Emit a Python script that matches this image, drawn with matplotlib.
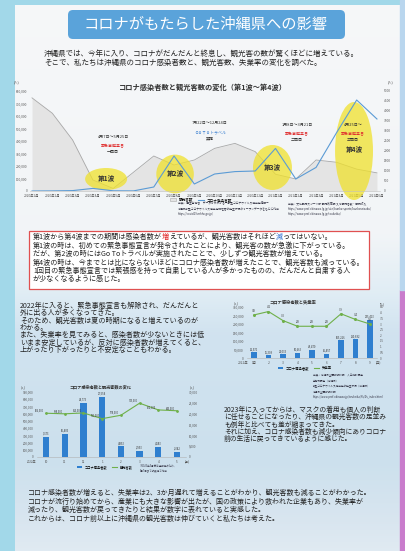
import numpy as np
import matplotlib
matplotlib.use("Agg")
import matplotlib.pyplot as plt
from matplotlib.patches import Ellipse, FancyBboxPatch, Rectangle
from matplotlib.lines import Line2D
from matplotlib.ticker import FuncFormatter

plt.rcParams['font.family'] = ['Noto Sans CJK JP', 'DejaVu Sans']

# --- main chart: 2020/1 - 2021/6
months_main = ['2020年1月', '2020年2月', '2020年3月', '2020年4月', '2020年5月', '2020年6月',
               '2020年7月', '2020年8月', '2020年9月', '2020年10月', '2020年11月', '2020年12月',
               '2021年1月', '2021年2月', '2021年3月', '2021年4月', '2021年5月', '2021年6月']
visitors_main = [745000, 622000, 408000, 88000, 20000, 150000, 280000, 208000, 248000,
                 341000, 381000, 315000, 134000, 96000, 248000, 230000, 175000, 145000]
cases_main = [0, 5, 20, 130, 10, 5, 200, 1750, 350, 850, 970, 1000, 2130, 600, 1180, 2900, 4550, 3600]
waves = ['第1波', '第2波', '第3波', '第4波']

# --- right chart: cases and unemployment, 2022
months_r = ['1月', '2', '3', '4', '5', '6', '7', '8', '9']
cases_r = [32570, 16308, 21033, 30663, 48470, 26457, 105226, 110882, 225413]
unemp_r = [3.8, 4.1, 3.3, 2.8, 2.8, 2.8, 3.9, 3.4, 3.0]

# --- bottom-left chart: cases and visitors, 2022/10 - 2023/5
months_b = ['10', '11', '12', '1', '2', '3', '4', '5']
cases_b = [9173, 10483, 24773, 27554, 4853, 2953, 4683, 2342]
visitors_b = [606000, 598000, 610000, 531000, 578000, 745000, 652000, 640000]

title = 'コロナがもたらした沖縄県への影響'
intro = ['沖縄県では、今年に入り、コロナがだんだんと終息し、観光客の数が驚くほどに増えている。',
         'そこで、私たちは沖縄県のコロナ感染者数と、観光客数、失業率の変化を調べた。']
box_lines = [
    [('第1波から第4波までの期間は感染者数が', '#222'), ('増', '#e02020'),
     ('えているが、観光客数はそれほど', '#222'), ('減', '#2f6fd0'), ('ってはいない。', '#222')],
    [('第1波の時は、初めての緊急事態宣言が発令されたことにより、観光客の数が急激に下がっている。', '#222')],
    [('だが、第2波の時にはGo Toトラベルが実施されたことで、少しずつ観光客数が増えている。', '#222')],
    [('第4波の時は、今までとは比にならないほどにコロナ感染者数が増えたことで、観光客数も減っている。', '#222')],
    [('1回目の緊急事態宣言では緊張感を持って自粛している人が多かったものの、だんだんと自粛する人', '#222')],
    [('が少なくなるように感じた。', '#222')],
]
left_par = ['2022年に入ると、緊急事態宣言も解除され、だんだんと',
            '外に出る人が多くなってきた。',
            'そのため、観光客数は夏の時期になると増えているのが',
            'わかる。',
            'また、失業率を見てみると、感染者数が少ないときには低',
            'いまま安定しているが、反対に感染者数が増えてくると、',
            '上がったり下がったりと不安定なこともわかる。']
right_par = ['2023年に入ってからは、マスクの着用も個人の判断',
             'に任せることになったり、沖縄県の観光客数の足並み',
             'も例年と比べても差が縮まってきた。',
             'それに加え、コロナ感染者数も減少傾向にありコロナ',
             '前の生活に戻ってきているように感じた。']
bottom_par = ['コロナ感染者数が増えると、失業率は2、3か月遅れて増えることがわかり、観光客数も減ることがわかった。',
              'コロナが流行り始めてから、産業にも大きな影響が出たが、国の政策により救われた企業もあり、失業率が',
              '減ったり、観光客数が戻ってきたりと結果が数字に表れていると実感した。',
              'これからは、コロナ前以上に沖縄県の観光客数は伸びていくと私たちは考えた。']

W, H = 406, 551
fig = plt.figure(figsize=(W / 100, H / 100), dpi=100, facecolor='#a2d8e9')


def fbox(x0, y0, x1, y1):
    return [x0 / W, 1 - y1 / H, (x1 - x0) / W, (y1 - y0) / H]


comma = FuncFormatter(lambda v, p: f'{v:,.0f}')

# background / poster sheet in pixel coords
bg = fig.add_axes([0, 0, 1, 1])
bg.set_xlim(0, W)
bg.set_ylim(H, 0)
bg.axis('off')
bg.set_zorder(-1)
stops = [0, 230, 290, 330, 460, 520, 551]
cols = np.array([[0.965, 0.97, 0.975], [0.95, 0.96, 0.97], [0.88, 0.93, 0.96],
                 [0.82, 0.89, 0.94], [0.80, 0.88, 0.93], [0.85, 0.90, 0.94], [0.88, 0.92, 0.95]])
rows = np.arange(H)
grad = np.stack([np.interp(rows, stops, cols[:, k]) for k in range(3)], axis=1)
bg.imshow(grad[:, None, :], extent=[15, 400, H, 5], aspect='auto', zorder=0)
bg.add_patch(Rectangle((400, 290), 6, 261, color='#c97ccc', zorder=1))
bg.add_patch(Rectangle((400, 0), 6, 290, color='#b9d6ee', zorder=1))

bg.add_patch(FancyBboxPatch((68, 10), 277, 29, boxstyle='round,pad=0,rounding_size=5',
                            fc='#5aa3da', ec='none', zorder=2))
bg.text(206, 25, title, fontsize=11, color='white', ha='center', va='center', zorder=3)
for i, s in enumerate(intro):
    bg.text(44, 54 + i * 9, s, fontsize=5.4, color='#222', va='center', zorder=3)
bg.text(203, 87, 'コロナ感染者数と観光客数の変化（第1波～第4波）', fontsize=5.2,
        fontweight='bold', color='#333', ha='center', va='center')
bg.text(17, 83, '(人)', fontsize=2.4, color='#555', ha='center')
bg.text(391, 83, '(人)', fontsize=2.4, color='#555', ha='center')

# ---- main chart
ax = fig.add_axes(fbox(30, 91, 380, 191))
ax.patch.set_visible(False)
x = np.arange(len(months_main))
ax.fill_between(x, visitors_main, color='#e4e4e4', lw=0, zorder=1)
ax.plot(x, visitors_main, color='#a8a8a8', lw=0.6, zorder=1.5)
ax.set_xlim(-0.1, 17.15)
ax.set_ylim(0, 800000)
ax.set_yticks(range(0, 800001, 100000))
ax.yaxis.set_major_formatter(comma)
ax.set_xticks(x)
ax.set_xticklabels(months_main)
ax.tick_params(length=0, labelsize=2.3, colors='#555', pad=2)
for s in ['top', 'left', 'right']:
    ax.spines[s].set_visible(False)
ax.spines['bottom'].set_color('#c0c0c0')
ax.spines['bottom'].set_linewidth(0.4)

ell = [(3.65, 96000, 2.07, 176000), (7.05, 136000, 1.85, 310000),
       (11.85, 188000, 1.92, 360000), (15.87, 320000, 1.87, 784000)]
for name, (cx, cy, w, h) in zip(waves, ell):
    ax.add_patch(Ellipse((cx, cy), w, h, fc='#f0e12c', alpha=0.75, lw=0, zorder=2, clip_on=False))
    ty = cy if name != '第4波' else 330000
    ax.text(cx, ty, name, fontsize=4.8, fontweight='bold', color='#333', ha='center', va='center', zorder=3)

notes = [(4.0, ['4月7日～5月25日', '緊急事態宣言', '一回目'], 432000),
         (8.77, ['7月22日～12月24日', 'ＧｏＴｏトラベル', '実施'], 544000),
         (13.06, ['1月8日～3月21日', '緊急事態宣言', '二回目'], 528000),
         (15.82, ['4月25日～', '緊急事態宣言', '三回目'], 528000)]
for nx, lines, ny in notes:
    for j, s in enumerate(lines):
        c = '#333'
        if j == 1:
            c = '#3a7fd0' if 'Ｇｏ' in s else '#e03030'
        ax.text(nx, ny - j * (72000 if j == 1 else 60000), s, fontsize=2.9, color=c,
                ha='center', va='center', zorder=3)

ax2 = ax.twinx()
ax2.plot(x, cases_main, color='#5b9bd5', lw=0.8)
ax2.set_ylim(0, 5000)
ax2.set_yticks(range(0, 5001, 500))
ax2.tick_params(length=0, labelsize=2.3, colors='#555', pad=3)
for s in ['top', 'left', 'right', 'bottom']:
    ax2.spines[s].set_visible(False)

hs = [Rectangle((0, 0), 1, 1, fc='#e4e4e4', ec='#a8a8a8', lw=0.4),
      Line2D([], [], color='#5b9bd5', lw=0.8)]
ax.legend(hs, ['観光客数', 'コロナ感染者数'], loc='center', bbox_to_anchor=(201 / W, 1 - 200 / H),
          bbox_transform=fig.transFigure, ncol=2, fontsize=2.6, frameon=False,
          handlelength=1.6, handleheight=0.8, columnspacing=1.2)
bg.text(178, 209, '出典：厚生労働省　データからわかる－新型コロナウイルス感染症情報－\n'
        '沖縄県新型コロナウイルス感染症陽性者の発生状況のオープンデータをもとに作成\n'
        'https://covid19.mhlw.go.jp/', fontsize=2.0, color='#334', va='center', linespacing=1.5)
bg.text(288, 209, '出典：文化観光スポーツ部 観光政策課 入域観光客数・観光収入\n'
        'https://www.pref.okinawa.lg.jp/site/bunka-sports/kankoseisaku/\n'
        'https://www.pref.okinawa.lg.jp/toukeika/', fontsize=2.0, color='#334',
        va='center', linespacing=1.5)

# ---- red box text
bg.add_patch(Rectangle((29, 231), 340, 58, fc='white', ec='#e05050', lw=0.9, zorder=1))


def seg_line(xp, yp, parts, size):
    t = bg.text(xp, yp, parts[0][0], color=parts[0][1], fontsize=size, va='center', zorder=3)
    for s, c in parts[1:]:
        t = bg.annotate(s, xy=(1, 0.5), xycoords=t, color=c, fontsize=size,
                        va='center', ha='left', zorder=3)


for i, parts in enumerate(box_lines):
    seg_line(33, 237 + i * 8.5, parts, 5.1)

for i, s in enumerate(left_par):
    bg.text(20, 306 + i * 7.3, s, fontsize=5.1, color='#222', va='center')
for i, s in enumerate(right_par):
    bg.text(224, 410 + i * 7.3, s, fontsize=4.9, color='#222', va='center')
for i, s in enumerate(bottom_par):
    bg.text(28, 493 + i * 8.6, s, fontsize=5.0, color='#222', va='center')

# ---- right chart: cases (bars) and unemployment (line)
bar_c = '#2f7fcf'
line_c = '#6fb04a'
axr = fig.add_axes(fbox(246.75, 307, 377.25, 358))
axr.patch.set_visible(False)
xr = np.arange(len(months_r))
axr.bar(xr, cases_r, width=0.38, color=bar_c)
for xi, v in zip(xr, cases_r):
    axr.text(xi, v + 6000, f'{v:,}', fontsize=1.9, ha='center', va='bottom', color='#333')
axr.set_xlim(-0.5, 8.5)
axr.set_ylim(0, 300000)
axr.set_yticks(range(0, 300001, 50000))
axr.yaxis.set_major_formatter(comma)
axr.set_xticks(xr)
axr.set_xticklabels(months_r)
axr.tick_params(length=0, labelsize=2.3, colors='#555', pad=2)
for s in ['top', 'left', 'right']:
    axr.spines[s].set_visible(False)
axr.spines['bottom'].set_color('#b0b0b0')
axr.spines['bottom'].set_linewidth(0.4)
axr.text(-0.75, -0.09, '2022年', transform=axr.get_xaxis_transform(), fontsize=2.3,
         color='#555', ha='center', va='center')
axr.text(8.6, -0.09, '(月)', transform=axr.get_xaxis_transform(), fontsize=2.3,
         color='#555', ha='center', va='center')
axr2 = axr.twinx()
axr2.plot(xr, unemp_r, color=line_c, lw=0.8, marker='o', ms=1.2)
for xi, v in zip(xr, unemp_r):
    axr2.text(xi, v + 0.2, f'{v:.1f}', fontsize=2.0, ha='center', va='bottom', color='#333')
axr2.set_ylim(0, 4.5)
axr2.set_yticks(np.arange(0, 4.51, 0.5))
axr2.yaxis.set_major_formatter(FuncFormatter(lambda v, p: f'{v:g}'))
axr2.tick_params(length=0, labelsize=2.1, colors='#555', pad=2)
for s in ['top', 'left', 'right', 'bottom']:
    axr2.spines[s].set_visible(False)
bg.text(293, 302, 'コロナ感染者数と失業率', fontsize=3.1, fontweight='bold', color='#333',
        ha='center', va='center')
bg.text(236, 304, '(人)', fontsize=2.2, color='#555', ha='center', va='center')
bg.text(382, 304, '(%)', fontsize=2.2, color='#555', ha='center', va='center')
hr = [Rectangle((0, 0), 1, 1, fc=bar_c), Line2D([], [], color=line_c, lw=0.8)]
axr.legend(hr, ['コロナ感染者数', '失業率'], loc='center', bbox_to_anchor=(305 / W, 1 - 368 / H),
           bbox_transform=fig.transFigure, ncol=2, fontsize=2.4, frameon=False,
           handlelength=1.5, handleheight=0.7, columnspacing=1.5)
bg.text(313, 386, '出典：沖縄県企画部統計課　人口推計調査\n労働力調査（沖縄県）\n'
        '新型コロナウイルス感染症の発生状況（沖縄県）\n沖縄県企画部統計課\n'
        'https://www.pref.okinawa.jp/toukeika/lfs/lfs_index.html',
        fontsize=1.9, color='#334', va='center', linespacing=1.5)

# ---- bottom-left chart: visitors (line, left) and cases (bars, right)
axb = fig.add_axes(fbox(36.6, 392, 186.4, 457))
axb2 = axb.twinx()
axb.set_zorder(axb2.get_zorder() + 1)
axb.patch.set_visible(False)
axb2.patch.set_visible(False)
xb = np.arange(len(months_b))
axb2.bar(xb, cases_b, width=0.33, color=bar_c)
for xi, v in zip(xb, cases_b):
    axb2.text(xi, v + 700, f'{v:,}', fontsize=1.9, ha='center', va='bottom', color='#333')
axb2.set_ylim(0, 30000)
axb2.set_yticks(range(0, 30001, 5000))
axb2.yaxis.set_major_formatter(comma)
axb2.tick_params(length=0, labelsize=2.2, colors='#555', pad=2)
axb.plot(xb, visitors_b, color=line_c, lw=0.8, marker='o', ms=1.0)
for xi, v in zip(xb, visitors_b):
    axb.text(xi - 0.1, v + 12000, f'{v:,}', fontsize=1.8, ha='right', va='bottom', color='#333')
axb.set_xlim(-0.5, 7.5)
axb.set_ylim(0, 900000)
axb.set_yticks(range(0, 900001, 100000))
axb.yaxis.set_major_formatter(comma)
axb.set_xticks(xb)
axb.set_xticklabels(months_b)
axb.tick_params(length=0, labelsize=2.2, colors='#555', pad=2)
for a in (axb, axb2):
    for s in ['top', 'left', 'right']:
        a.spines[s].set_visible(False)
axb2.spines['bottom'].set_visible(False)
axb.spines['bottom'].set_color('#b0b0b0')
axb.spines['bottom'].set_linewidth(0.4)
axb.text(-0.75, -0.08, '2022年', transform=axb.get_xaxis_transform(), fontsize=2.2,
         color='#555', ha='center', va='center')
axb.text(7.55, -0.08, '(月)', transform=axb.get_xaxis_transform(), fontsize=2.2,
         color='#555', ha='center', va='center')
bg.text(100, 387, 'コロナ感染者数と観光客数の変化', fontsize=3.0, fontweight='bold',
        color='#333', ha='center', va='center')
bg.text(23, 388, '(人)', fontsize=2.2, color='#555', ha='center', va='center')
bg.text(192, 388, '(人)', fontsize=2.2, color='#555', ha='center', va='center')
hb = [Rectangle((0, 0), 1, 1, fc=bar_c), Line2D([], [], color=line_c, lw=0.8)]
axb.legend(hb, ['コロナ感染者数', '観光客数'], loc='center', bbox_to_anchor=(105 / W, 1 - 467 / H),
           bbox_transform=fig.transFigure, ncol=2, fontsize=2.3, frameon=False,
           handlelength=1.5, handleheight=0.7, columnspacing=1.5)
bg.text(140, 468, '※2023年5月分は速報値のため、\n5月7日までの数値で作成', fontsize=1.8,
        color='#334', va='center', linespacing=1.4)

fig.savefig('out.png', dpi=100, facecolor=fig.get_facecolor())
